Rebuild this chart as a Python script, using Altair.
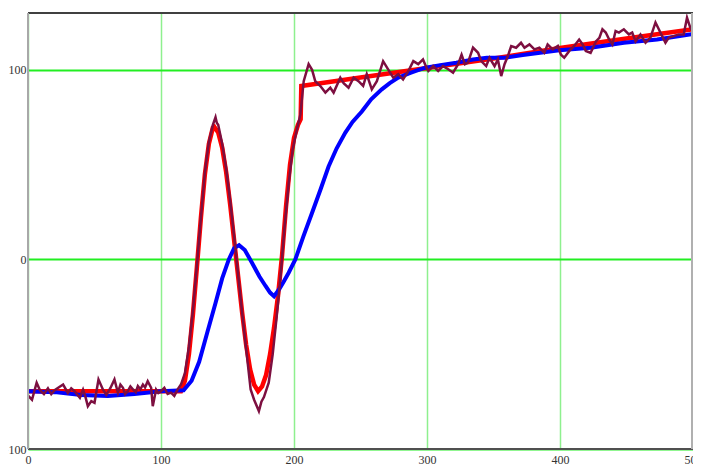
import altair as alt
import pandas as pd

# ---- data ----
red_x = [0, 115, 118, 121, 124, 127, 130, 133, 136, 139, 140, 143, 146, 149, 152, 155, 158, 161,
         164, 167, 170, 173, 176, 179, 182, 185, 188, 191, 194, 197, 200, 203, 205, 205.5,
         250, 300, 350, 400, 450, 500]
red_y = [-69.5, -69.5, -64, -50, -29, -4, 22, 45, 61, 69.5, 70, 67, 59, 46, 29, 10, -9, -28,
         -45, -58, -66, -69.5, -67, -61, -50, -36, -19, 2, 28, 50, 64, 71, 74, 91.5,
         96, 101, 106, 111.5, 116.5, 121.5]

blue_x = [0, 20, 40, 60, 80, 100, 117, 123, 128.7, 135, 141, 146, 151, 155, 158.7, 163, 168.6,
          174, 178.6, 182, 185, 188.6, 192, 196, 201, 207, 213.6, 220, 226, 232, 238.5, 244,
          251, 258, 266, 272, 278.4, 288, 298, 310, 322, 334.6, 345, 359, 372, 385, 399.5,
          423, 448, 473, 500]
blue_y = [-69.5, -70, -71.5, -72, -71, -69.5, -69, -64, -54, -38, -23, -10, 0, 6, 7.5, 5, -2,
          -9, -14, -17.5, -19.4, -16, -12, -7, 0, 12, 24.6, 37, 49, 58.5, 66.8, 72.5,
          78, 84.5, 89.7, 93, 95.9, 98.5, 101, 102.5, 103.8, 105.5, 106.4, 106.4, 107.8, 109, 110.3,
          111.7, 114.3, 116, 119]

meas_x = [0.25, 3, 6.5, 9, 12, 15, 17.5, 20, 22.7, 26.4, 30, 32.5, 35, 39, 41.4, 43, 45, 47.6,
          50, 53, 56.4, 58.9, 62, 65, 67.6, 69.5, 71.4, 73, 75, 77, 79, 81, 82.6, 84.5, 86.4,
          88, 90, 92.6, 93.8, 96.3, 98, 100, 102.5, 105, 107.5, 110, 112.5,
          115, 118, 121, 124, 127, 130, 133, 136, 139, 141, 142, 143, 146, 149, 152, 155, 158,
          161, 164, 167.4, 170, 173.6, 175.5, 177.4, 181, 184, 187, 190, 193, 196, 199, 202,
          204.8, 207.3, 211, 213.6, 216, 219.8, 223.6, 227.3, 229.8, 234.8, 237.3, 241, 244.8,
          248.5, 252, 254.7, 258.5, 262.3, 267, 271, 274.7, 278.4, 282, 286, 289.7, 293.4, 297,
          299.7, 301, 304.6, 308.4, 312, 316, 319.6, 323.4, 326, 328.5, 330.8, 334.6, 338.4,
          340.8, 344.5, 347, 350.8, 353.3, 355.8, 358.3, 360.8, 363.3, 367, 370.7, 373.3, 377,
          380.8, 384.5, 388.2, 390.7, 394.5, 398.4, 400.7, 403.2, 407, 410.7, 414.4, 417, 419.4,
          423, 427, 429.6, 431.9, 434.4, 437, 439.4, 441.8, 444.3, 448, 451.8, 454.3, 456.8,
          460.5, 464.3, 468, 471.8, 474.3, 476.8, 479.3, 481.8, 485.5, 489.3, 493, 495.5, 498, 500]
meas_y = [-72, -74, -65, -69, -71, -68, -71, -69, -67.7, -66, -70.4, -68, -69.5, -73, -68.7, -72,
          -77.4, -74.7, -75.6, -63.3, -68.7, -71.4, -67.8, -63.3, -70.3, -66, -67.7, -71, -69.5,
          -67, -68.6, -70, -66.8, -68.5, -66, -67.5, -64.2, -67.7, -77.4, -68.6, -70.5, -69.5,
          -67.7, -71, -70.3, -72, -68.6,
          -66, -60, -46, -27, -3, 22, 46, 62, 71, 75, 72, 71, 61, 48, 31, 12, -8,
          -28, -47, -68.6, -74, -80, -75, -72.6, -65, -50, -30, -8, 18, 40, 58, 68,
          76.5, 94, 103, 100, 94, 91.5, 88, 90.6, 88, 95.9, 93, 90.6, 95.9,
          94, 91.5, 97.7, 89.7, 94, 104.6, 100, 95.9, 97.7, 95, 99.4, 104.6, 103, 105.5,
          101, 99.4, 102, 99.4, 102, 100.3, 98.5, 103, 108, 103, 103.8, 111.7, 109,
          104.6, 102, 106.4, 102, 105.5, 96.7, 103, 107.3, 112.6, 111.7, 114.3, 111.7, 113.4,
          110.8, 111.7, 109, 113.4, 110.8, 112.6, 108, 106.4, 110, 112.6, 116, 113.4, 110,
          109, 115, 116.9, 121.4, 119.7, 116, 113.4, 120.5, 119.7, 121.4, 118.7, 119.7, 115,
          118.7, 114.3, 117, 125, 121.4, 117.8, 114.3, 117, 117.8, 118.7, 118.7, 127.5, 122.2, 120]

x_ticks = [0, 100, 200, 300, 400, 500]
y_ticks = [-100, 0, 100]

W, H = 665, 436

df_red = pd.DataFrame({"x": red_x, "y": red_y})
df_blue = pd.DataFrame({"x": blue_x, "y": blue_y})
df_meas = pd.DataFrame({"x": meas_x, "y": meas_y})

font = "Liberation Sans Narrow"

xs = alt.X("x:Q", scale=alt.Scale(domain=[0, 500], nice=False, zero=False),
           axis=alt.Axis(values=x_ticks, title=None, domain=False, ticks=False,
                         grid=True, gridColor="#8ef08e", gridWidth=1.5,
                         labelFont=font, labelFontSize=12, labelColor="#333333",
                         labelPadding=5, labelFlush=False, format="d"))
ys = alt.Y("y:Q", scale=alt.Scale(domain=[-100, 130], nice=False, zero=False),
           axis=alt.Axis(values=y_ticks, title=None, domain=False, ticks=False,
                         grid=True, gridColor="#22ee22", gridWidth=2,
                         labelFont=font, labelFontSize=12, labelColor="#333333",
                         labelPadding=2, labelFlush=False, format="d"))

red = alt.Chart(df_red).mark_line(color="#ff0000", strokeWidth=4.5).encode(x=xs, y=ys)
blue = alt.Chart(df_blue).mark_line(color="#0000ff", strokeWidth=4).encode(x=xs, y=ys)
meas = alt.Chart(df_meas).mark_line(color="#7d0f40", strokeWidth=2.5).encode(x=xs, y=ys)

dummy = pd.DataFrame({"k": [0]})
top = alt.Chart(dummy).mark_rule(color="#404040", strokeWidth=2).encode(
    x=alt.value(0), x2=alt.value(W), y=alt.value(0))
bottom = alt.Chart(dummy).mark_rule(color="#505050", strokeWidth=2).encode(
    x=alt.value(0), x2=alt.value(W), y=alt.value(H))
left = alt.Chart(dummy).mark_rule(color="#a8a8a8", strokeWidth=2).encode(
    x=alt.value(0), y=alt.value(0), y2=alt.value(H))
right = alt.Chart(dummy).mark_rule(color="#b0b0b0", strokeWidth=2).encode(
    x=alt.value(W - 1), y=alt.value(0), y2=alt.value(H))

chart = alt.layer(red, blue, meas, top, bottom, left, right).properties(
    width=W, height=H,
    autosize=alt.AutoSizeParams(type="none"),
    padding={"left": 20, "top": 5, "right": 0, "bottom": 18},
).configure_view(stroke=None).configure(background="white")

chart.save("out.html", embed_options={"renderer": "svg", "actions": False})
